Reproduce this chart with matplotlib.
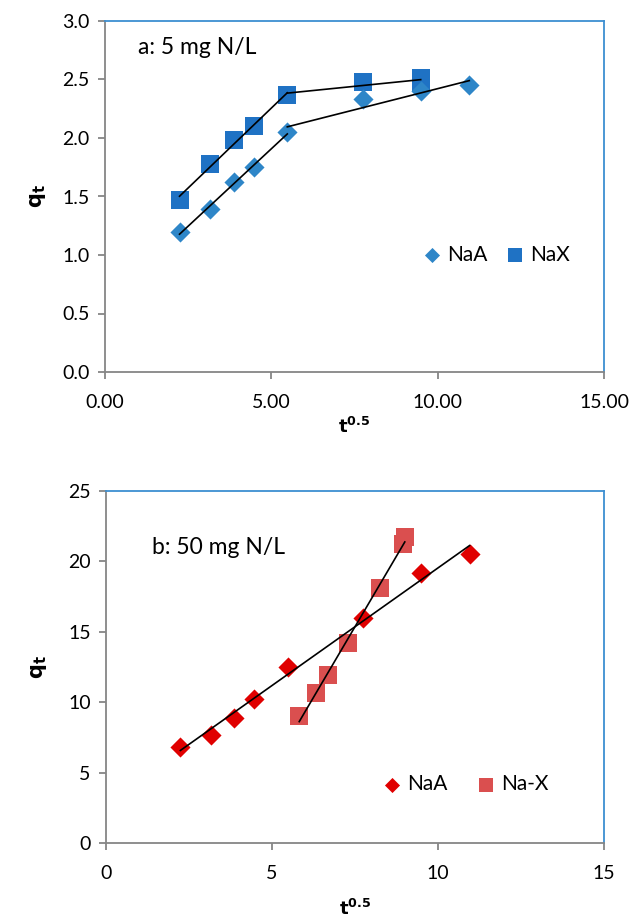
import numpy as np
import matplotlib
matplotlib.use("Agg")
import matplotlib.pyplot as plt

plt.rcParams['font.family'] = ['Lato', 'DejaVu Sans']

# Panel a: 5 mg N/L
a_naa_x = [2.24, 3.16, 3.87, 4.47, 5.48, 7.75, 9.49, 10.95]
a_naa_y = [1.20, 1.39, 1.62, 1.75, 2.05, 2.33, 2.40, 2.45]
a_nax_x = [2.24, 3.16, 3.87, 4.47, 5.48, 7.75, 9.49, 9.49]
a_nax_y = [1.47, 1.78, 1.98, 2.10, 2.37, 2.48, 2.51, 2.47]
a_naa_breaks = [(0, 5), (4, 8)]
a_nax_breaks = [(0, 5), (4, 8)]

# Panel b: 50 mg N/L
b_naa_x = [2.24, 3.16, 3.87, 4.47, 5.48, 7.75, 9.49, 10.95]
b_naa_y = [6.85, 7.65, 8.9, 10.25, 12.5, 16.0, 19.2, 20.5]
b_nax_x = [5.82, 6.32, 6.70, 7.30, 8.25, 8.94, 9.00]
b_nax_y = [9.0, 10.65, 11.95, 14.2, 18.1, 21.25, 21.7]

xticks_a = [0, 5, 10, 15]
xtick_labels_a = ["0.00", "5.00", "10.00", "15.00"]
yticks_a = [0.0, 0.5, 1.0, 1.5, 2.0, 2.5, 3.0]
xticks_b = [0, 5, 10, 15]
yticks_b = [0, 5, 10, 15, 20, 25]

W, H = 633, 917
fig = plt.figure(figsize=(W / 100, H / 100), dpi=100)

def frac(l, r, t, b):
    return [l / W, 1 - b / H, (r - l) / W, (b - t) / H]

gray = '#868686'
blue_sp = '#3d8fd1'

def style(ax):
    ax.spines['left'].set_color(gray)
    ax.spines['bottom'].set_color(gray)
    ax.spines['top'].set_color(blue_sp)
    ax.spines['right'].set_color(blue_sp)
    for s in ax.spines.values():
        s.set_linewidth(1.3)
    ax.tick_params(axis='both', which='both', direction='out', length=5,
                   width=1.3, color=gray, labelsize=14, pad=6)
    ax.tick_params(axis='x', pad=10.5)

def fitline(ax, x, y, i0, i1):
    xs = np.array(x[i0:i1]); ys = np.array(y[i0:i1])
    p = np.polyfit(xs, ys, 1)
    xx = np.array([xs.min(), xs.max()])
    ax.plot(xx, np.polyval(p, xx), color='black', lw=1.2, zorder=4)

leg_kw = dict(ncol=2, frameon=False, fontsize=15, handlelength=0.8,
              handletextpad=0.32, markerscale=0.75, borderpad=0, borderaxespad=0)

# Panel a
ax1 = fig.add_axes(frac(105, 604, 21, 372))
style(ax1)
ax1.scatter(a_naa_x, a_naa_y, marker='D', s=105, color='#2e86c8', label='NaA', zorder=3, linewidths=0)
ax1.scatter(a_nax_x, a_nax_y, marker='s', s=175, color='#1f72c4', label='NaX', zorder=2, linewidths=0)
for i0, i1 in a_naa_breaks:
    fitline(ax1, a_naa_x, a_naa_y, i0, i1)
for i0, i1 in a_nax_breaks:
    fitline(ax1, a_nax_x, a_nax_y, i0, i1)
ax1.set_xlim(0, 15)
ax1.set_ylim(0, 3.0)
ax1.set_xticks(xticks_a)
ax1.set_xticklabels(xtick_labels_a)
ax1.set_yticks(yticks_a)
ax1.set_yticklabels([f"{v:.1f}" for v in yticks_a])
ax1.text(0.066, 0.905, 'a: 5 mg N/L', transform=ax1.transAxes, fontsize=16.5)
ax1.set_ylabel(r'$\mathbf{q_t}$', fontsize=15, labelpad=10)
ax1.set_xlabel(r'$\mathbf{t^{0.5}}$', fontsize=13, labelpad=4)
ax1.legend(loc='lower right', bbox_to_anchor=(0.932, 0.305), columnspacing=0.95, **leg_kw)

# Panel b
ax2 = fig.add_axes(frac(106, 604, 491, 843))
style(ax2)
ax2.scatter(b_naa_x, b_naa_y, marker='D', s=105, color='#e00000', label='NaA', zorder=3, linewidths=0)
ax2.scatter(b_nax_x, b_nax_y, marker='s', s=175, color='#da4f4f', label='Na-X', zorder=2, linewidths=0)
fitline(ax2, b_naa_x, b_naa_y, 0, len(b_naa_x))
fitline(ax2, b_nax_x, b_nax_y, 0, len(b_nax_x))
ax2.set_xlim(0, 15)
ax2.set_ylim(0, 25)
ax2.set_xticks(xticks_b)
ax2.set_yticks(yticks_b)
ax2.text(0.092, 0.822, 'b: 50 mg N/L', transform=ax2.transAxes, fontsize=16.5)
ax2.set_ylabel(r'$\mathbf{q_t}$', fontsize=15, labelpad=14)
ax2.set_xlabel(r'$\mathbf{t^{0.5}}$', fontsize=13, labelpad=12)
ax2.legend(loc='lower right', bbox_to_anchor=(0.888, 0.139), columnspacing=1.45, **leg_kw)

fig.savefig('out.png', dpi=100)
